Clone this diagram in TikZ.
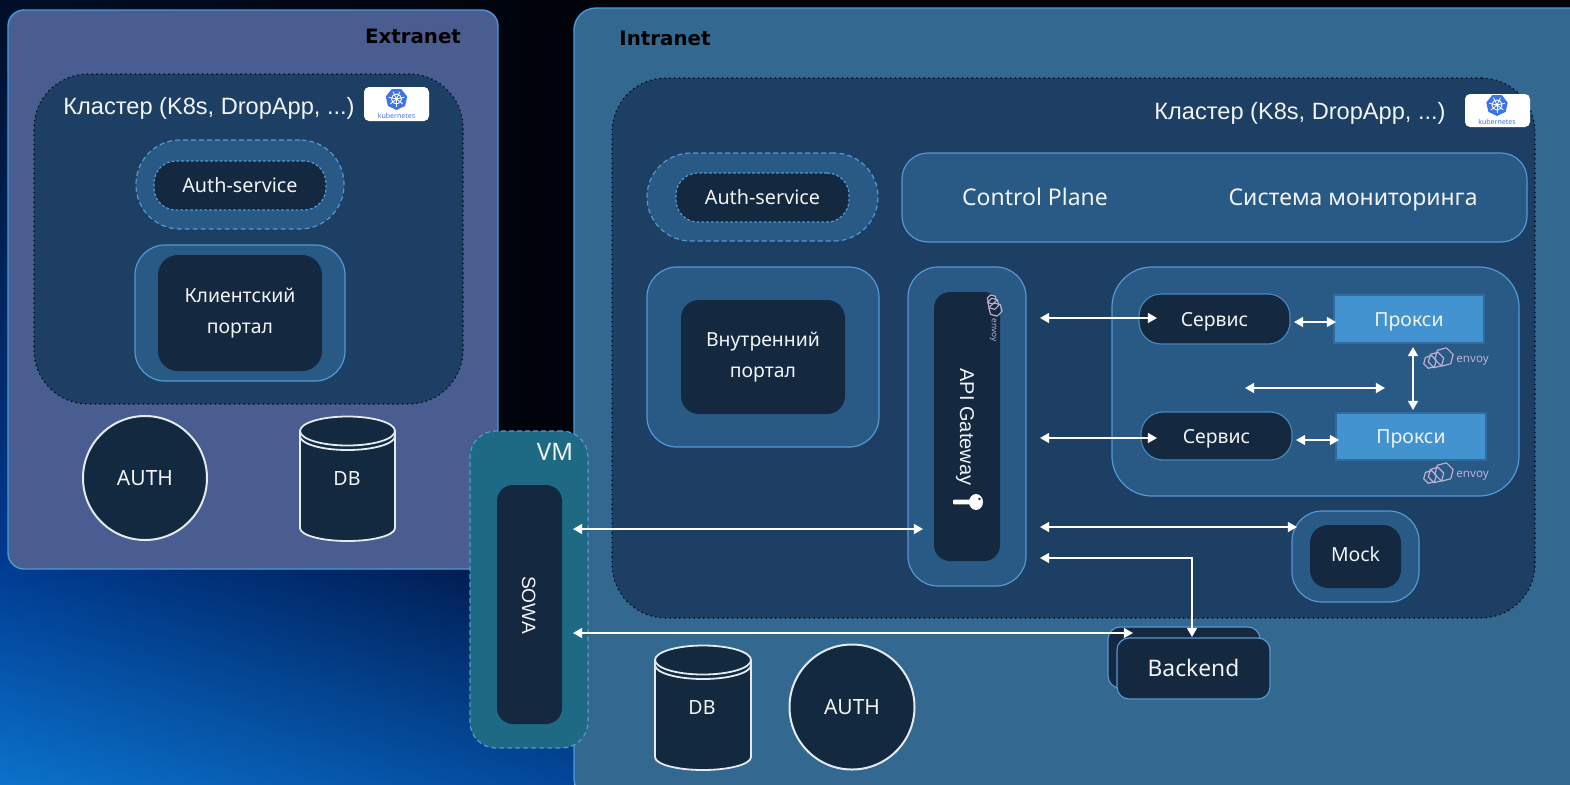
\documentclass[tikz,border=0pt]{standalone}
\usepackage{fontspec}
\setmainfont{Noto Sans}
\newfontfamily\helv{Liberation Sans}
\newfontfamily\zonefont{DejaVu Sans}
\usetikzlibrary{arrows.meta,shapes.geometric,shadings}
\definecolor{exfill}{HTML}{4A5D90}
\definecolor{infill}{HTML}{336890}
\definecolor{frameblue}{HTML}{4A9AD8}
\definecolor{cluster}{HTML}{1D3F63}
\definecolor{midfill}{HTML}{285A85}
\definecolor{midline}{HTML}{5498D2}
\definecolor{darkfill}{HTML}{142840}
\definecolor{proxyfill}{HTML}{4393D0}
\definecolor{vmfill}{HTML}{1E6A84}
\definecolor{storefill}{HTML}{12293F}
\definecolor{lightline}{HTML}{E4EAEF}
\definecolor{envoyc}{HTML}{BDB0D2}
\definecolor{k8sblue}{HTML}{3F74E6}
\definecolor{txt}{HTML}{F1F4F7}
\definecolor{bgll}{HTML}{0B72CA}
\definecolor{bglr}{HTML}{03479A}
\definecolor{bgul}{HTML}{003A90}
\definecolor{bgur}{HTML}{001440}
\definecolor{bgtop}{HTML}{000E28}
\definecolor{bgm}{HTML}{00030A}
\tikzset{
  zone/.style={draw=frameblue,line width=0.7pt,rounded corners=8pt},
  clusterbox/.style={fill=cluster,draw=black,line width=0.8pt,line cap=round,dash pattern=on 0pt off 2.4pt,rounded corners=27pt},
  midsolid/.style={fill=midfill,draw=midline,line width=0.6pt,rounded corners=#1},
  middash/.style={fill=midfill,draw=midline,line width=0.6pt,dash pattern=on 2.4pt off 1.6pt,rounded corners=22pt},
  darkdash/.style={fill=darkfill,draw=midline,line width=0.6pt,dash pattern=on 1.4pt off 1pt,rounded corners=11pt,text=txt,font=\fontsize{9.9}{11}\selectfont,text height=7pt,text depth=0pt},
  darkbox/.style={fill=darkfill,rounded corners=#1,text=txt,font=\fontsize{9.7}{15.5}\selectfont,align=center},
  servicebox/.style={fill=darkfill,draw=#1,line width=0.6pt,rounded corners=11pt,text=txt,font=\fontsize{9.7}{11}\selectfont,text height=7pt,text depth=0pt},
  proxybox/.style={fill=proxyfill,draw=midfill!70!proxyfill,line width=0.6pt,text=txt,font=\fontsize{9.7}{11}\selectfont,text height=7pt,text depth=0pt},
  lbl/.style={text=txt,inner sep=0pt,outer sep=0pt,font=\fontsize{9.8}{11}\selectfont,text height=7pt,text depth=0pt},
  rotlbl/.style={text=txt,inner sep=0pt,outer sep=0pt,rotate=-90,font=\helv\fontsize{#1}{12}\selectfont,text height=7pt,text depth=0pt},
  biglbl/.style={text=txt,inner sep=0pt,outer sep=0pt,font=\fontsize{11.5}{13}\selectfont,text height=8.3pt,text depth=0pt},
  clusterlbl/.style={text=txt,inner sep=0pt,outer sep=0pt,font=\helv\fontsize{11.8}{13}\selectfont,text height=8.4pt,text depth=0pt},
  zonelbl/.style={text=black,inner sep=0pt,outer sep=0pt,font=\zonefont\bfseries\fontsize{9.9}{12}\selectfont,text height=7pt,text depth=0pt},
  authc/.style={circle,fill=storefill,draw=lightline,line width=1pt,inner sep=0pt,outer sep=0pt,text=txt,font=\fontsize{10.5}{12}\selectfont,text height=7.6pt,text depth=0pt},
  storeline/.style={fill=storefill,draw=lightline,line width=0.9pt},
  badge/.style={fill=white,rounded corners=2.5pt},
  biarrow/.style={draw=white,line width=0.9pt,{Triangle[length=4.6pt,width=5pt]}-{Triangle[length=4.6pt,width=5pt]}},
  envoylogo/.pic={
    \foreach \cx/\cy/\r in {2/3/6.5,8/1/8,16/-2/9.5}
      \draw[envoyc,line width=0.6pt,fill=none,line join=round] (\cx,\cy) +(45:\r) -- +(105:\r) -- +(165:\r) -- +(225:\r) -- +(285:\r) -- +(345:\r) -- cycle;
    \node[anchor=base west,inner sep=0pt,text=envoyc,font=\fontsize{5.8}{7}\selectfont,transform shape] (txt) at (28,3) {envoy};
  },
  k8slogo/.pic={
    \fill[k8sblue] (90:11) -- (38.6:11) -- (-12.9:11) -- (-64.3:11) -- (-115.7:11) -- (-167.1:11) -- (141.4:11) -- cycle;
    \draw[white,line width=0.45pt] (0,0) circle (5);
    \foreach \a in {90,38.6,-12.9,-64.3,-115.7,-167.1,141.4} \draw[white,line width=0.4pt] (0,0) -- (\a:8);
    \fill[white] (0,0) circle (1.6);
    \node[inner sep=0pt,text=k8sblue,font=\bfseries\fontsize{3.5}{4}\selectfont] (txt) at (0,16.5) {kubernetes};
  },
  keyicon/.pic={
    \fill[white,rounded corners=0.5pt] (-23,-2.3) rectangle (0,2.3);
    \fill[white] (0,0) ellipse (7 and 8);
    \fill[darkfill] (3.5,-3) circle (1.3);
  }
}
\newcommand\nbox[7]{%
  \pgfmathsetmacro\nbx{(#3+#5)/2}%
  \pgfmathsetmacro\nby{(#4+#6)/2}%
  \pgfmathsetmacro\nbw{(#5-#3)*0.5}%
  \pgfmathsetmacro\nbh{(#6-#4)*0.5}%
  \node[#2,minimum width=\nbw pt,minimum height=\nbh pt,inner sep=0pt,outer sep=0pt] (#1) at (\nbx,\nby) {#7};%
}
\newcommand\dbdraw[4]{% x1 x2 top bottom
  \pgfmathsetmacro\dbm{(#1+#2)/2}%
  \pgfmathsetmacro\dbr{(#2-#1)/2}%
  \pgfmathsetmacro\dbt{#3+15}%
  \pgfmathsetmacro\dbu{#3+20}%
  \pgfmathsetmacro\dbb{#4-13}%
  \draw[storeline] (#1,\dbt) -- (#1,\dbb) arc[start angle=180,end angle=360,x radius=\dbr,y radius=-13] -- (#2,\dbt) -- cycle;
  \draw[lightline,line width=0.9pt] (#1,\dbu) arc[start angle=180,end angle=360,x radius=\dbr,y radius=-14];
  \draw[storeline] (\dbm,\dbt) ellipse[x radius=\dbr,y radius=14.5];
}
\begin{document}
\begin{tikzpicture}[x=0.5pt,y=-0.5pt]
\useasboundingbox (0,0) rectangle (1570,784);
% background
\fill[bgm] (0,0) rectangle (1570,784);
\shade[left color=bgtop,right color=bgm] (0,0) rectangle (540,560);
\shade[top color=bgtop,bottom color=bgul] (0,0) rectangle (30,560);
\shade[lower left=bgll,lower right=bglr,upper left=bgul,upper right=bgur] (0,558) rectangle (574,784);
% zones
\nbox{extranet}{zone,fill=exfill}{8}{10}{498}{569}{}
\begin{scope}
\clip (0,0) rectangle (1570,784);
\nbox{intranet}{zone,fill=infill,rounded corners=11pt}{574}{8}{1600}{800}{}
\end{scope}
\node[zonelbl] (extranetlbl) at (413,36) {Extranet};
\node[zonelbl] (intranetlbl) at (665,38) {Intranet};
% left cluster
\nbox{clusterL}{clusterbox}{34}{74}{463}{404}{}
\node[clusterlbl] (clusterLlbl) at (209,106) {Кластер (K8s, DropApp, ...)};
\nbox{badgeL}{badge}{364}{87}{429}{121}{}
\pic (kL) at (396.5,99) {k8slogo};
\nbox{authLout}{middash}{136}{140}{344}{229}{}
\nbox{authLin}{darkdash}{154}{161}{326}{210}{Auth-service}
\nbox{clientout}{midsolid=15pt}{135}{245}{345}{381}{}
\nbox{clientin}{darkbox=10pt}{158}{255}{322}{371}{Клиентский\\портал}
\node[authc,minimum size=62pt] (authL) at (145,478) {AUTH};
\dbdraw{300}{395}{416}{541}
\node[lbl] (dbL) at (347,478) {DB};
% right cluster
\nbox{clusterR}{clusterbox}{612}{78}{1535}{618}{}
\node[clusterlbl] (clusterRlbl) at (1300,111) {Кластер (K8s, DropApp, ...)};
\nbox{badgeR}{badge}{1465}{94}{1530}{127}{}
\pic (kR) at (1497,105) {k8slogo};
\nbox{authRout}{middash}{647}{153}{878}{241}{}
\nbox{authRin}{darkdash}{676}{173}{849}{222}{Auth-service}
\nbox{control}{midsolid=13pt}{902}{153}{1527}{242}{}
\node[biglbl] (controllbl) at (1035,197) {Control Plane};
\node[biglbl] (monlbl) at (1353,197) {Система мониторинга};
\nbox{portalout}{midsolid=15pt}{647}{267}{879}{447}{}
\nbox{portalin}{darkbox=9pt}{681}{300}{845}{414}{Внутренний\\портал}
\nbox{gwout}{midsolid=15pt}{908}{267}{1026}{586}{}
\nbox{gwin}{darkbox=8pt}{934}{292}{1000}{561}{}
\node[rotlbl=10] (gwlbl) at (967,427) {API Gateway};
\pic[rotate=-90,scale=0.72] (envG) at (994,298) {envoylogo};
\pic (key) at (976,502) {keyicon};
% service mesh
\nbox{mesh}{midsolid=20pt}{1112}{267}{1519}{496}{}
\nbox{svcA}{servicebox=midline!70!midfill}{1139}{294}{1290}{344}{Сервис}
\nbox{svcB}{servicebox=midline!70!midfill}{1141}{412}{1292}{460}{Сервис}
\nbox{proxyA}{proxybox}{1334}{295}{1484}{343}{Прокси}
\nbox{proxyB}{proxybox}{1336}{413}{1486}{460}{Прокси}
\pic (envA) at (1428,359) {envoylogo};
\pic (envB) at (1428,474) {envoylogo};
\nbox{mockout}{midsolid=15pt}{1292}{511}{1419}{602}{}
\nbox{mockin}{darkbox=9pt,text height=7pt,text depth=2pt}{1310}{525}{1401}{588}{Mock}
% VM
\nbox{vm}{fill=vmfill,draw=midline,line width=0.6pt,dash pattern=on 2.4pt off 1.6pt,rounded corners=13pt}{470}{431}{588}{748}{}
\node[biglbl,font=\fontsize{12}{13}\selectfont] (vmlbl) at (555,452) {VM};
\nbox{sowa}{darkbox=8pt}{497}{485}{562}{724}{}
\node[rotlbl=9.6] (sowalbl) at (529,605) {SOWA};
% bottom of intranet
\dbdraw{655}{751}{645}{770}
\node[lbl] (dbR) at (702,707) {DB};
\node[authc,minimum size=62.5pt] (authR) at (852,707) {AUTH};
\nbox{backback}{fill=darkfill,draw=midline,line width=0.6pt,rounded corners=6pt}{1108}{627}{1260}{688}{}
\nbox{backend}{fill=darkfill,draw=midline,line width=0.6pt,rounded corners=6pt,text=txt,font=\fontsize{11.4}{13}\selectfont,text height=8.3pt,text depth=0pt}{1117}{638}{1270}{699}{Backend}
% connector ends
\coordinate (a1) at (1040,318); \coordinate (a2) at (1157,318);
\coordinate (b1) at (1040,438); \coordinate (b2) at (1157,438);
\coordinate (c1) at (1294,322); \coordinate (c2) at (1336,322);
\coordinate (d1) at (1296,440); \coordinate (d2) at (1339,440);
\coordinate (e1) at (1413,347); \coordinate (e2) at (1413,410);
\coordinate (f1) at (1245,388); \coordinate (f2) at (1385,388);
\coordinate (g1) at (1040,527); \coordinate (g2) at (1297,527);
\coordinate (h1) at (1040,558); \coordinate (h2) at (1192,558); \coordinate (h3) at (1192,637);
\coordinate (i1) at (573,633); \coordinate (i2) at (1133,633);
\coordinate (j1) at (573,529); \coordinate (j2) at (923,529);
\draw[biarrow] (a1) -- (a2);
\draw[biarrow] (b1) -- (b2);
\draw[biarrow] (c1) -- (c2);
\draw[biarrow] (d1) -- (d2);
\draw[biarrow] (e1) -- (e2);
\draw[biarrow] (f1) -- (f2);
\draw[biarrow] (g1) -- (g2);
\draw[biarrow] (h1) -- (h2) -- (h3);
\draw[biarrow] (i1) -- (i2);
\draw[biarrow] (j1) -- (j2);
\end{tikzpicture}
\end{document}
